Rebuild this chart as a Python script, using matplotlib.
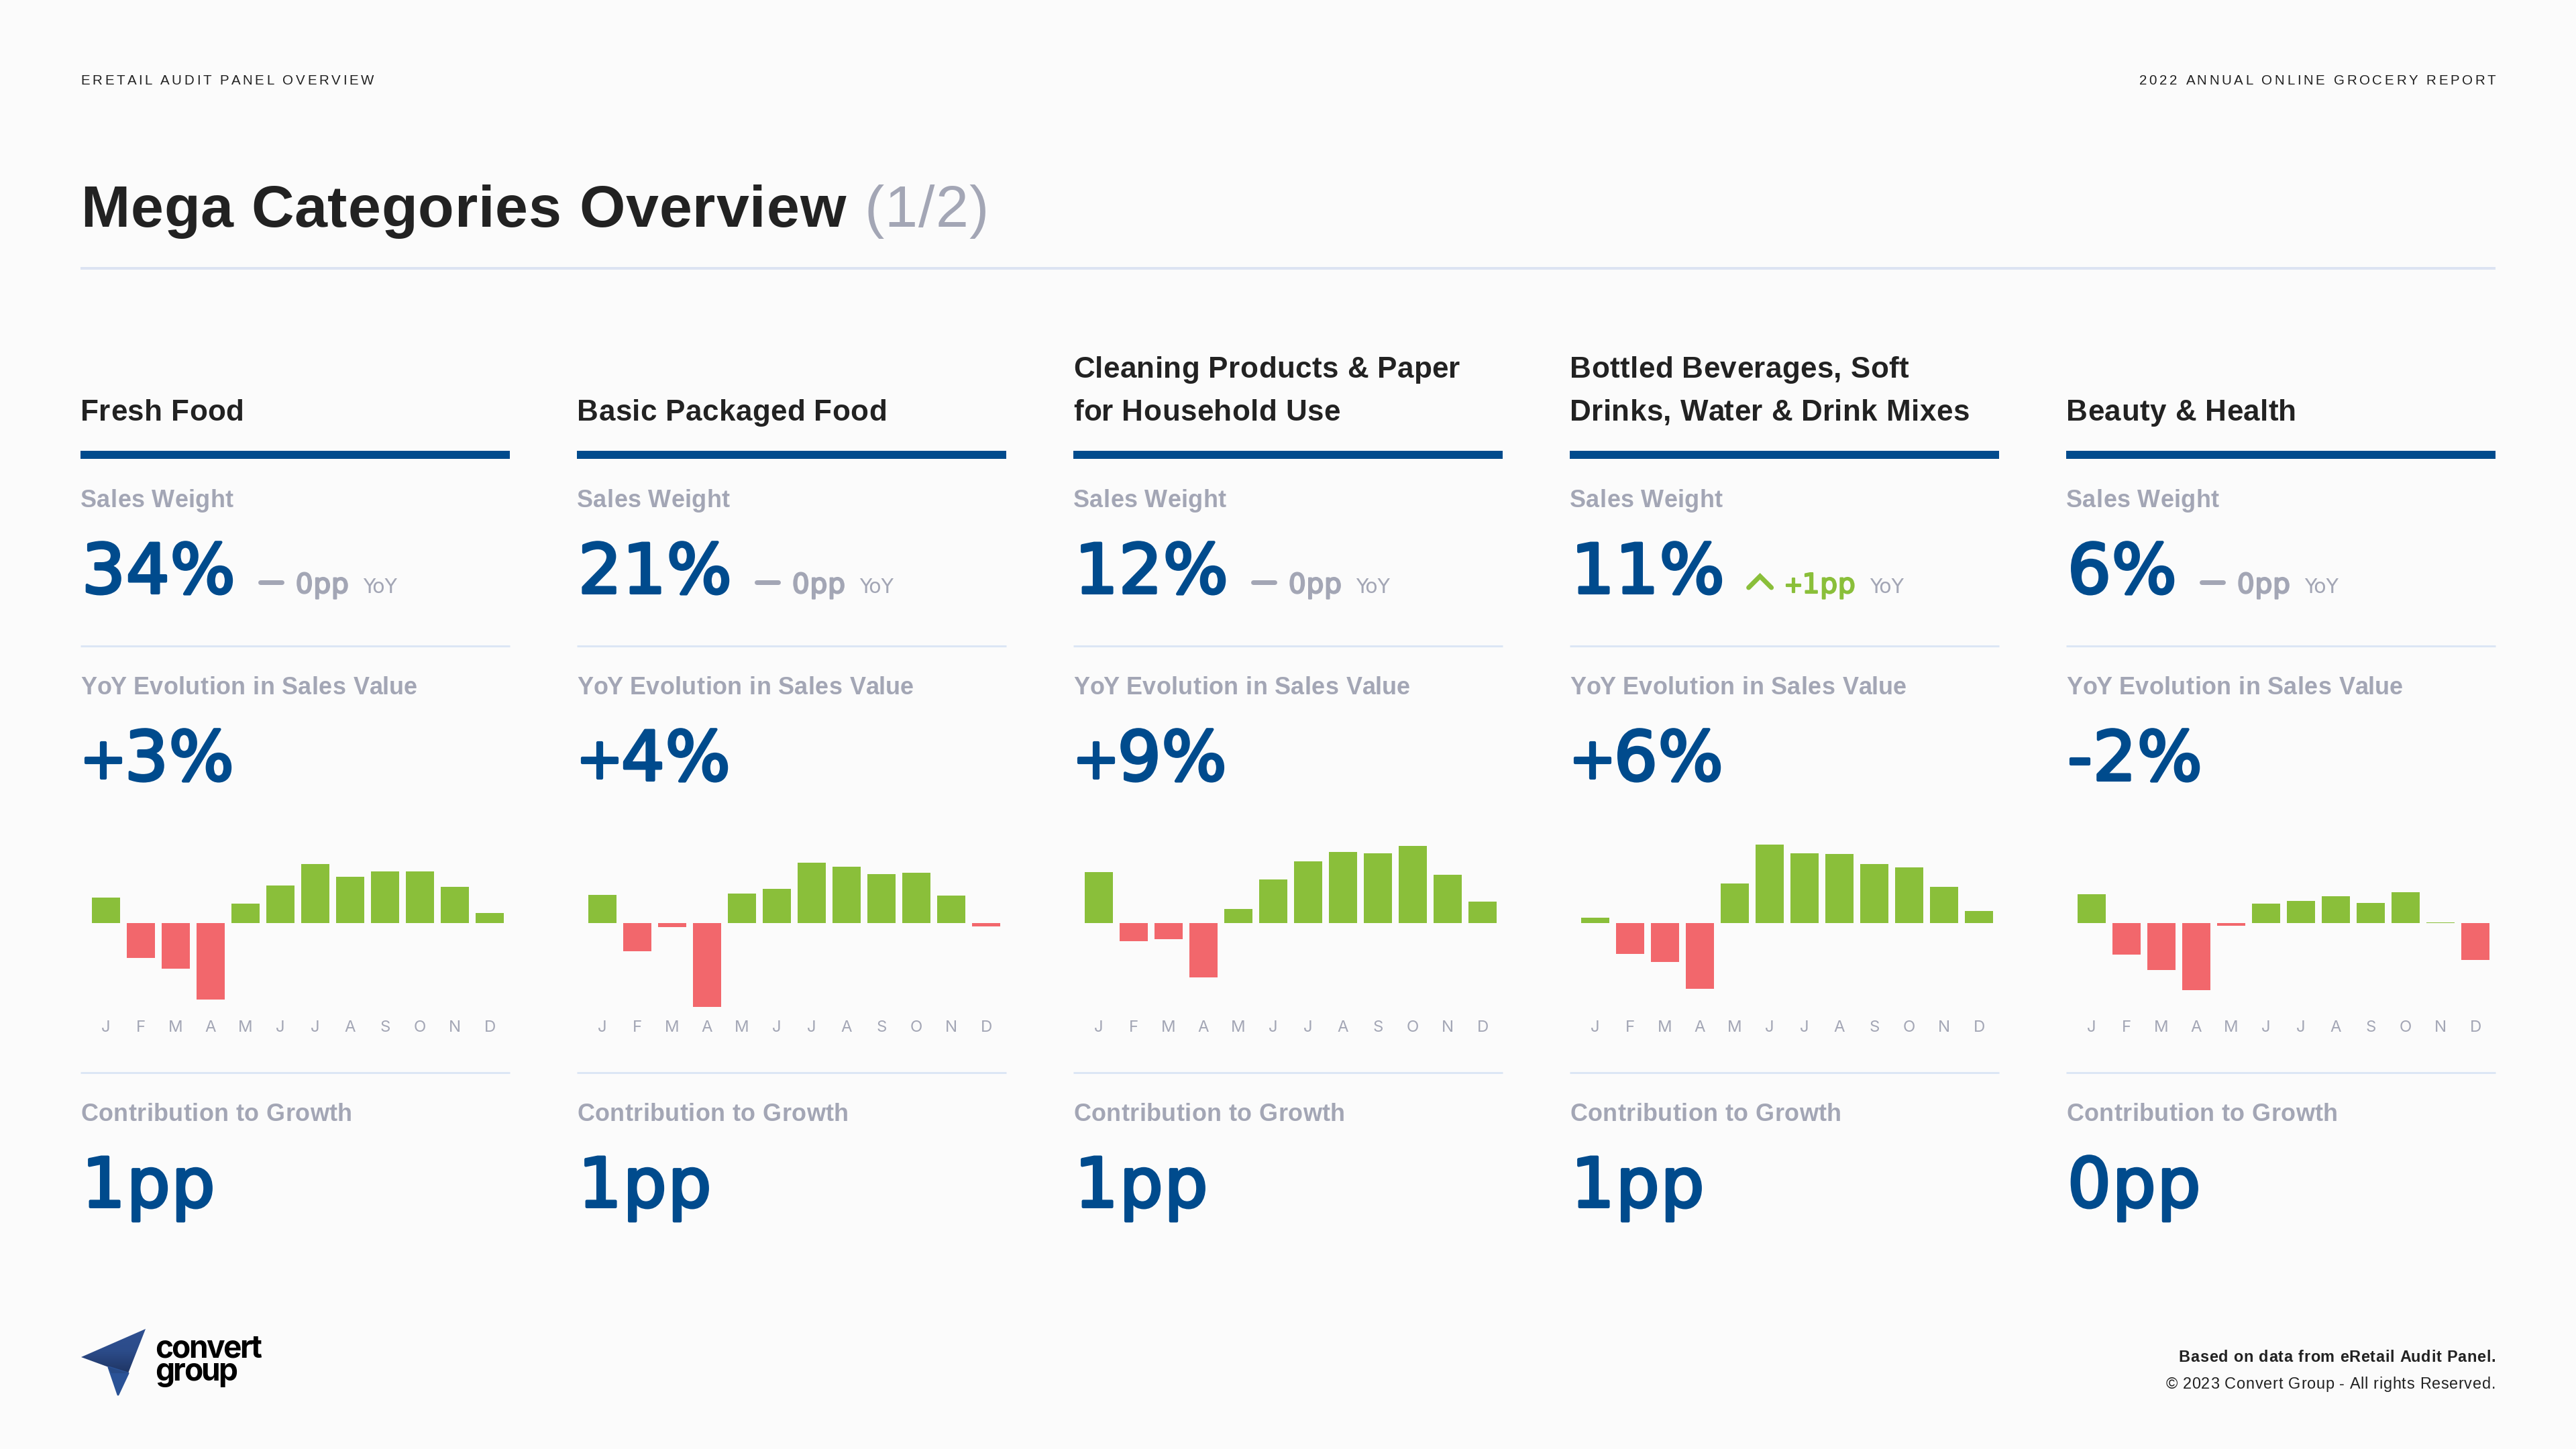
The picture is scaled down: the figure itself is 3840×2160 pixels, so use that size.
"""
mega categories overview slide: five category columns with kpi numbers and monthly yoy bars.
everything is placed on a 3840x2160 pixel overlay, only the bars get their own axes.
"""

import matplotlib
matplotlib.use("Agg")
import matplotlib.pyplot as plt
import matplotlib.patheffects as pe
import numpy as np
from matplotlib.patches import Polygon
from matplotlib.text import Text

CATEGORIES = [
    ["Fresh Food"],
    ["Basic Packaged Food"],
    ["Cleaning Products & Paper", "for Household Use"],
    ["Bottled Beverages, Soft", "Drinks, Water & Drink Mixes"],
    ["Beauty & Health"],
]
SALES_WEIGHT = [34, 21, 12, 11, 6]
WEIGHT_DELTA = [0, 0, 0, 1, 0]
YOY_VALUE = [3, 4, 9, 6, -2]
CONTRIBUTION = [1, 1, 1, 1, 0]
MONTHS = ["J", "F", "M", "A", "M", "J", "J", "A", "S", "O", "N", "D"]

FRESH = [7.7, -10.3, -13.6, -22.8, 5.9, 11.3, 17.7, 13.9, 15.4, 15.5, 10.9, 3.0]
PACKAGED = [8.5, -8.3, -1.1, -25.0, 8.8, 10.3, 18.0, 16.9, 14.7, 15.1, 8.3, -0.9]
CLEANING = [15.3, -5.4, -4.7, -16.1, 4.2, 13.1, 18.5, 21.2, 20.8, 23.1, 14.4, 6.4]
BEVERAGES = [1.7, -9.2, -11.6, -19.5, 11.8, 23.4, 20.9, 20.6, 17.7, 16.6, 10.9, 3.6]
BEAUTY = [8.6, -9.3, -13.9, -20.0, -0.8, 5.9, 6.7, 8.1, 6.1, 9.2, 0.2, -11.0]
MONTHLY = [FRESH, PACKAGED, CLEANING, BEVERAGES, BEAUTY]

BG = "#fbfbfb"
BLUE = "#004b8d"
DARK = "#222222"
GRAY = "#a3a6b5"
RULE = "#dce6f5"
GREEN = "#8abf3a"
RED = "#f2676c"
SANS = "Liberation Sans"
NUM = "DejaVu Sans"

W, H = 3840, 2160
COL_X = [120, 860, 1600, 2340, 3080]
COL_W = 640
PLUS_SCALE = 0.82  # dejavu's plus is much wider than the one in the slide
PLUS_TRIM = 0.22  # em taken out of the advance after it


def px(v):
    # pixels at 200 dpi -> points
    return v * 72 / 200


class TrackedText(Text):
    """one text artist that draws with css-like letter spacing (in pixels)"""

    def __init__(self, x, y, s, spacing=0, stroke=0, **kw):
        super().__init__(x, y, s, **kw)
        self.spacing = spacing
        self.stroke = stroke

    def draw(self, renderer):
        s = self.get_text()
        x, y = self.get_position()
        prop = self.get_fontproperties()
        em = prop.get_size_in_points() * 200 / 72

        def width(part):
            return renderer.get_text_width_height_descent(part, prop, False)[0] if part else 0

        total = width(s) + self.spacing * (len(s) - 1)
        start = x - total if self.get_horizontalalignment() == "right" else x
        has_plus = self.stroke and s.startswith("+")
        for i, ch in enumerate(s):
            cx, cy, cprop = start + width(s[:i]) + i * self.spacing, y, prop
            if has_plus and i == 0:
                cprop = prop.copy()
                cprop.set_size(prop.get_size_in_points() * PLUS_SCALE)
                cx -= 0.03 * em
                cy -= 0.03 * em
            elif has_plus:
                cx -= PLUS_TRIM * em
            part = Text(cx, cy, ch, fontproperties=cprop, color=self.get_color(), va="baseline",
                        ha="left", transform=self.get_transform())
            if self.stroke:
                # dejavu has no medium weight, thicken the regular
                part.set_path_effects([pe.withStroke(linewidth=px(self.stroke), foreground=self.get_color())])
            part.set_figure(self.get_figure())
            part.draw(renderer)


def label(ax, x, y, s, size, color=DARK, weight="normal", spacing=0, ha="left", family=SANS):
    t = TrackedText(x, y, s, spacing=spacing, fontsize=px(size), color=color, fontweight=weight,
                    family=family, ha=ha, va="baseline")
    ax.add_artist(t)
    return t


def number(ax, x, y, s, size=102, color=BLUE, spacing=1.0, stroke=4.2):
    t = TrackedText(x, y, s, spacing=spacing, stroke=stroke, fontsize=px(size), color=color,
                    family=NUM, va="baseline", ha="left")
    ax.add_artist(t)
    return t


def rule(ax, x0, x1, y, lw, color):
    ax.plot([x0, x1], [y, y], lw=px(lw), color=color, solid_capstyle="butt")


def draw_logo(ax):
    wing = Polygon([(217, 1981), (121, 2023), (162, 2038), (191, 2047)], closed=True,
                   transform=ax.transData, fc="none", ec="none")
    ax.add_patch(wing)
    shade = np.linspace(0, 1, 100).reshape(-1, 1)
    cmap = matplotlib.colors.LinearSegmentedColormap.from_list("wing", ["#2f5091", "#2c4c8a", "#1f3563"])
    im = ax.imshow(shade, extent=(120, 218, 2047, 1980), cmap=cmap, aspect="auto", zorder=2)
    im.set_clip_path(wing)
    ax.add_patch(Polygon([(162, 2038), (191, 2047), (176, 2079)], closed=True, fc="#2a5296",
                         ec="#2a5296", lw=px(3), joinstyle="round", zorder=2))
    ax.add_patch(Polygon([(162, 2038), (191, 2047), (166, 2047)], closed=True, fc="#274a86",
                         ec="none", zorder=3))
    label(ax, 231, 2024, "convert", 46, color="black", weight="bold", spacing=-2.6, family="Inter")
    label(ax, 231, 2058, "group", 46, color="black", weight="bold", spacing=-2.6, family="Inter")


def monthly_bars(fig, x0, values):
    # 1 unit = 5 px, zero line sits at y=1376
    ax = fig.add_axes([(x0 + 12) / W, 1 - 1510 / H, 624 / W, 270 / H])
    colors = [GREEN if v >= 0 else RED for v in values]
    ax.bar(range(12), values, width=0.8, color=colors)
    ax.set_xlim(-0.5, 11.5)
    ax.set_ylim(-134 / 5, 136 / 5)
    ax.set_xticks(range(12))
    ax.set_xticklabels(MONTHS, fontsize=px(24), color=GRAY, family="Inter")
    ax.set_yticks([])
    ax.tick_params(axis="x", length=0, pad=px(11))
    ax.patch.set_visible(False)
    for s in ax.spines.values():
        s.set_visible(False)


fig = plt.figure(figsize=(W / 200, H / 200), dpi=200, facecolor=BG)
page = fig.add_axes([0, 0, 1, 1])
page.patch.set_visible(False)
page.axis("off")
page.set_xlim(0, W)
page.set_ylim(H, 0)
page.set_autoscale_on(False)
renderer = fig.canvas.get_renderer()


def text_right(t, extra):
    # right edge in page pixels, window extent does not know the tracking
    return page.transData.inverted().transform(t.get_window_extent(renderer))[1][0] + extra


label(page, 120, 126, "ERETAIL AUDIT PANEL OVERVIEW", 20.5, spacing=3.8)
label(page, 3720, 126, "2022 ANNUAL ONLINE GROCERY REPORT", 20.5, spacing=3.7, ha="right")

label(page, 120, 338, "Mega Categories Overview", 88, weight="bold", spacing=0.9)
label(page, 1288, 338, "(1/2)", 88, color=GRAY, spacing=1.2)
rule(page, 120, 3720, 400, 4, "#dce3f2")

for i, x0 in enumerate(COL_X):
    lines = CATEGORIES[i]
    for j, line in enumerate(reversed(lines)):
        label(page, x0, 627 - 64 * j, line, 44, weight="bold", spacing=0.4)
    rule(page, x0, x0 + COL_W, 678, 12, BLUE)

    label(page, x0, 756, "Sales Weight", 36, color=GRAY, weight="bold", spacing=0.4)
    s = f"{SALES_WEIGHT[i]}%"
    big = number(page, x0 + 2, 884, s)
    right = text_right(big, len(s) - 1)

    delta = WEIGHT_DELTA[i]
    mark = right + 34
    if delta > 0:
        page.plot([mark + 2, mark + 19, mark + 36], [876, 859, 876], color=GREEN, lw=px(7),
                  solid_capstyle="round", solid_joinstyle="miter")
        dcolor, dtext, trim = GREEN, f"+{delta}pp", PLUS_TRIM * 41
    else:
        page.plot([mark + 3, mark + 35], [868, 868], color=GRAY, lw=px(7), solid_capstyle="round")
        dcolor, dtext, trim = GRAY, f"{delta}pp", 0
    dt = number(page, mark + 56, 884, dtext, size=41, color=dcolor, spacing=0.5, stroke=2.2)
    dright = text_right(dt, 0.5 * (len(dtext) - 1) - trim)
    page.text(dright + 21, 884, "YoY", fontsize=px(30), color=GRAY, family=NUM, va="baseline")
    rule(page, x0, x0 + COL_W, 963, 3, RULE)

    label(page, x0, 1035, "YoY Evolution in Sales Value", 36, color=GRAY, weight="bold", spacing=0.4)
    number(page, x0 + 2, 1163, f"{YOY_VALUE[i]:+d}%")

    monthly_bars(fig, x0, MONTHLY[i])
    rule(page, x0, x0 + COL_W, 1599, 3, RULE)

    label(page, x0, 1671, "Contribution to Growth", 36, color=GRAY, weight="bold", spacing=0.4)
    number(page, x0 + 2, 1799, f"{CONTRIBUTION[i]}pp", spacing=2.0)

draw_logo(page)
page.set_xlim(0, W)
page.set_ylim(H, 0)

label(page, 3720, 2030, "Based on data from eRetail Audit Panel.", 23.5, weight="bold", spacing=0.73, ha="right")
label(page, 3720, 2070, "\u00a9 2023 Convert Group - All rights Reserved.", 23.5, spacing=0.75, ha="right")

fig.savefig("out.png", dpi=200, facecolor=BG)
plt.close(fig)
